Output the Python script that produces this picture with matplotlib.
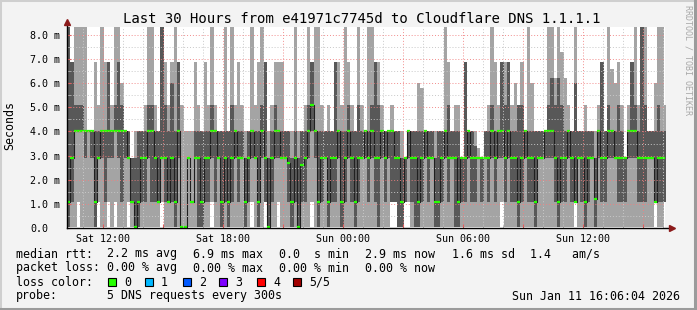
"""SmokePing-style latency chart: Cloudflare DNS 1.1.1.1, last 30 hours."""

import matplotlib

matplotlib.use("Agg")
import matplotlib.pyplot as plt
import numpy as np
from matplotlib.patches import Rectangle
from matplotlib.ticker import FuncFormatter, MultipleLocator

# time axis in hours since Sat 00:00, 10-minute bins
START_H = 10.2
END_H = 40.1
BIN_H = 1 / 6

# round-trip times in ms, 5 pings per bin sorted: min, 2nd, median, 4th, max
median = [
    1.07, 2.9, 4.0, 4.0, 4.0, 4.0, 4.0, 4.0, 1.07, 2.9, 4.0, 4.0,
    4.0, 4.0, 4.0, 4.0, 4.0, 4.0, 2.9, 1.07, 0.05, 1.07, 2.9, 2.9,
    4.0, 4.0, 2.9, 1.07, 2.9, 2.9, 1.07, 2.9, 1.07, 4.0, 0.05, 0.05,
    2.9, 1.07, 2.9, 2.9, 1.07, 2.9, 2.9, 4.0, 4.0, 2.9, 1.07, 2.9,
    1.07, 2.9, 4.0, 2.9, 2.9, 1.07, 2.9, 4.0, 2.9, 1.07, 4.0, 2.9,
    0.05, 2.9, 4.0, 4.0, 2.9, 2.9, 2.7, 1.07, 2.9, 0.05, 2.6, 2.9,
    4.0, 5.1, 4.0, 1.07, 2.9, 2.9, 1.07, 2.9, 2.9, 4.0, 1.07, 2.9,
    4.0, 2.9, 1.07, 2.9, 2.9, 4.0, 2.9, 4.0, 2.9, 2.9, 4.0, 2.9,
    4.0, 4.0, 2.9, 2.9, 1.07, 2.9, 4.0, 2.9, 2.9, 1.07, 2.9, 4.0,
    2.9, 2.9, 1.07, 1.07, 2.9, 4.0, 2.9, 2.9, 2.9, 1.07, 2.9, 2.9,
    4.0, 2.9, 2.9, 2.9, 2.9, 2.9, 2.9, 4.0, 2.9, 4.0, 4.0, 2.9,
    4.0, 2.9, 2.9, 1.07, 2.9, 4.0, 2.9, 2.9, 1.07, 2.9, 2.9, 4.0,
    4.0, 4.0, 2.9, 1.07, 2.9, 2.9, 4.0, 2.9, 1.07, 2.9, 2.9, 1.07,
    2.9, 2.9, 1.2, 4.0, 2.9, 2.9, 4.0, 4.0, 2.9, 2.9, 2.9, 2.9,
    4.0, 4.0, 4.0, 2.9, 2.9, 2.9, 2.9, 2.9, 1.07, 2.9, 2.9, 2.9,
]
ping_max = [
    8.4, 6.9, 8.4, 8.4, 8.4, 8.4, 4.0, 4.0, 6.9, 5.1, 8.4, 6.9,
    6.9, 5.1, 8.4, 8.4, 6.0, 4.0, 4.0, 2.9, 4.0, 4.0, 4.0, 5.1,
    8.4, 8.4, 5.1, 4.0, 8.4, 6.9, 5.1, 6.9, 8.4, 6.9, 5.1, 4.0,
    4.0, 4.0, 6.9, 5.1, 4.0, 6.9, 5.1, 8.4, 5.1, 4.0, 4.0, 8.4,
    4.0, 8.4, 5.1, 6.9, 5.1, 4.0, 4.0, 8.4, 5.1, 6.9, 8.4, 6.9,
    4.0, 5.1, 6.9, 6.9, 6.9, 4.0, 4.0, 4.0, 8.4, 4.0, 4.0, 5.1,
    8.4, 6.9, 8.4, 8.4, 5.1, 4.0, 5.1, 4.0, 6.9, 6.9, 5.1, 8.4,
    6.9, 5.1, 4.0, 8.4, 5.1, 4.0, 8.4, 8.4, 6.9, 6.9, 5.1, 4.0,
    4.0, 5.1, 4.0, 4.0, 4.0, 2.9, 4.0, 4.0, 4.0, 6.0, 5.8, 4.0,
    4.0, 4.0, 4.0, 4.0, 4.0, 8.4, 6.9, 4.0, 5.1, 5.1, 2.9, 6.9,
    4.0, 4.0, 4.0, 3.3, 2.9, 4.0, 5.1, 8.4, 6.9, 5.1, 6.9, 6.9,
    6.9, 5.1, 6.0, 5.1, 6.9, 4.0, 8.4, 6.0, 4.0, 4.0, 4.0, 4.0,
    8.4, 8.4, 6.2, 8.4, 7.3, 6.2, 5.1, 4.0, 8.4, 4.0, 4.0, 5.1,
    4.0, 4.0, 4.0, 5.1, 6.9, 4.0, 8.4, 6.6, 6.0, 6.9, 5.1, 2.9,
    5.1, 6.9, 8.4, 5.1, 8.4, 8.4, 4.0, 4.0, 6.0, 8.4, 8.4, 5.1,
]
ping_hi = [
    8.4, 6.9, 5.1, 5.1, 5.1, 4.0, 4.0, 4.0, 4.0, 4.0, 4.0, 4.0,
    6.9, 4.0, 5.1, 6.9, 5.1, 4.0, 4.0, 2.9, 2.9, 4.0, 4.0, 4.0,
    5.1, 5.1, 4.0, 4.0, 8.4, 5.1, 4.0, 6.0, 4.0, 6.9, 0.05, 0.05,
    2.9, 1.07, 4.0, 4.0, 4.0, 4.0, 4.0, 5.1, 4.0, 4.0, 4.0, 4.0,
    4.0, 5.1, 4.0, 4.0, 4.0, 2.9, 4.0, 4.0, 4.0, 4.0, 5.1, 6.9,
    2.9, 4.0, 5.1, 4.0, 4.0, 4.0, 4.0, 2.9, 4.0, 2.9, 4.0, 4.0,
    5.1, 6.9, 4.0, 4.0, 4.0, 4.0, 4.0, 4.0, 6.9, 4.0, 4.0, 4.0,
    5.1, 4.0, 4.0, 5.1, 4.0, 4.0, 4.0, 5.1, 6.9, 5.1, 4.0, 4.0,
    4.0, 4.0, 4.0, 4.0, 2.9, 2.9, 4.0, 4.0, 4.0, 4.0, 4.0, 4.0,
    4.0, 4.0, 2.9, 4.0, 4.0, 4.0, 5.1, 4.0, 4.0, 4.0, 2.9, 6.9,
    4.0, 4.0, 3.4, 2.9, 2.9, 4.0, 4.0, 5.1, 4.0, 4.0, 6.9, 5.1,
    6.9, 4.0, 4.0, 5.1, 5.1, 4.0, 4.0, 4.0, 4.0, 4.0, 4.0, 4.0,
    5.1, 6.2, 5.1, 6.2, 5.1, 4.0, 4.0, 4.0, 6.0, 4.0, 4.0, 4.0,
    4.0, 4.0, 2.9, 4.0, 6.9, 4.0, 5.1, 4.0, 4.0, 5.1, 4.0, 2.9,
    4.0, 6.9, 5.1, 4.0, 8.4, 5.1, 4.0, 4.0, 4.0, 5.1, 4.0, 4.0,
]
ping_lo = [
    0.05, 1.07, 4.0, 4.0, 4.0, 2.9, 4.0, 2.9, 0.05, 2.9, 2.9, 1.07,
    2.9, 2.9, 4.0, 2.9, 1.07, 2.9, 2.9, 1.07, 0.05, 0.05, 1.07, 1.07,
    2.9, 1.07, 1.07, 1.07, 2.9, 1.07, 1.07, 1.07, 0.05, 2.9, 0.05, 0.05,
    2.9, 1.07, 2.9, 0.05, 0.05, 1.07, 1.07, 2.9, 1.07, 2.9, 0.05, 1.07,
    0.05, 1.07, 2.9, 1.07, 2.9, 0.05, 1.07, 2.9, 2.9, 0.05, 2.9, 1.07,
    0.05, 1.07, 2.9, 2.9, 2.9, 2.9, 1.07, 0.05, 1.07, 0.05, 1.07, 1.07,
    2.9, 4.0, 2.9, 0.05, 1.07, 2.9, 0.05, 1.07, 1.07, 2.9, 0.05, 1.07,
    2.9, 1.07, 0.05, 1.07, 2.9, 2.9, 1.07, 2.9, 1.07, 0.05, 2.9, 1.07,
    2.9, 1.07, 1.07, 0.05, 0.05, 1.07, 2.9, 1.07, 0.05, 0.05, 1.07, 2.9,
    1.07, 2.9, 0.05, 0.05, 1.07, 2.9, 1.07, 2.9, 0.05, 0.05, 1.07, 1.07,
    2.9, 1.07, 1.07, 2.9, 1.07, 2.9, 1.07, 2.9, 1.07, 2.9, 2.9, 1.07,
    2.9, 1.07, 1.07, 0.05, 1.07, 2.9, 1.07, 1.07, 0.05, 2.9, 2.9, 2.9,
    2.9, 2.9, 1.07, 0.05, 1.07, 1.07, 2.9, 1.07, 1.07, 2.9, 1.07, 0.05,
    1.07, 2.9, 0.05, 2.9, 1.07, 1.07, 2.9, 2.9, 2.9, 1.07, 1.07, 1.07,
    2.9, 2.9, 2.9, 1.07, 1.07, 1.07, 2.9, 2.9, 1.07, 1.07, 1.07, 1.07,
]
ping_min = [
    0.05, 0.05, 0.05, 1.07, 0.05, 0.05, 0.05, 0.05, 0.05, 1.07, 0.05, 0.05,
    1.07, 0.05, 1.07, 0.05, 0.05, 0.05, 1.07, 0.05, 0.05, 0.05, 0.05, 0.05,
    0.05, 0.05, 0.05, 0.05, 1.07, 0.05, 0.05, 0.05, 0.05, 0.05, 0.05, 0.05,
    0.05, 0.05, 0.05, 0.05, 0.05, 0.05, 0.05, 1.07, 0.05, 0.05, 0.05, 0.05,
    0.05, 0.05, 0.05, 0.05, 0.05, 0.05, 0.05, 1.07, 0.05, 0.05, 0.05, 1.07,
    0.05, 0.05, 0.05, 1.07, 0.05, 0.05, 0.05, 0.05, 0.05, 0.05, 0.05, 0.05,
    0.05, 1.07, 0.05, 0.05, 0.05, 0.05, 0.05, 0.05, 0.05, 0.05, 0.05, 0.05,
    0.05, 0.05, 0.05, 0.05, 0.05, 0.05, 0.05, 0.05, 0.05, 0.05, 0.05, 0.05,
    0.05, 1.07, 1.07, 0.05, 0.05, 1.07, 1.07, 0.05, 0.05, 0.05, 0.05, 0.05,
    0.05, 0.05, 0.05, 0.05, 0.05, 0.05, 0.05, 0.05, 0.05, 0.05, 0.05, 0.05,
    0.05, 0.05, 0.05, 0.05, 0.05, 0.05, 0.05, 0.05, 0.05, 0.05, 1.07, 0.05,
    0.05, 0.05, 0.05, 0.05, 0.05, 0.05, 0.05, 0.05, 0.05, 0.05, 0.05, 0.05,
    0.05, 0.05, 0.05, 0.05, 0.05, 0.05, 0.05, 0.05, 1.07, 0.05, 0.05, 0.05,
    0.05, 0.05, 0.05, 0.05, 0.05, 0.05, 0.05, 0.05, 0.05, 0.05, 0.05, 0.05,
    0.05, 0.05, 0.05, 0.05, 0.05, 0.05, 0.05, 0.05, 1.07, 0.05, 0.05, 1.07,
]

loss_labels = ["0", "1", "2", "3", "4", "5/5"]
loss_colors = ["#26ff00", "#00b8ff", "#0059ff", "#7e00ff", "#ff0000", "#a10000"]

stat_rows = [
    ("median rtt:", ["2.2 ms avg", "6.9 ms max", "0.0  s min", "2.9 ms now",
                     "1.6 ms sd", "1.4   am/s"]),
    ("packet loss:", ["0.00 % avg", "0.00 % max", "0.00 % min", "0.00 % now"]),
]

TITLE = "Last 30 Hours from e41971c7745d to Cloudflare DNS 1.1.1.1"
PROBE = "5 DNS requests every 300s"
STAMP = "Sun Jan 11 16:06:04 2026"

W, H = 697, 310
MONO = "DejaVu Sans Mono"


def px(x, y):
    """pixel position (from top left) -> figure fraction"""
    return x / W, 1 - y / H


def hour_label(h, _pos):
    h = round(h)
    if h % 6:
        return ""
    day = "Sat" if h < 24 else "Sun"
    return f"{day} {h % 24:02d}:00"


def main():
    fig = plt.figure(figsize=(W / 100, H / 100), dpi=100, facecolor="#f3f3f3")
    ax = fig.add_axes([67 / W, 82 / H, 598 / W, 201 / H])
    ax.set_facecolor("white")

    n = len(median)
    edges = START_H + np.arange(n + 1) * BIN_H
    mids = edges[:-1]

    def stepped(vals):
        v = np.asarray(vals, dtype=float)
        return np.append(v, v[-1])

    # smoke: outer pair light, inner pair dark
    ax.fill_between(edges, stepped(ping_min), stepped(ping_max), step="post",
                    color="#a4a4a4", linewidth=0, zorder=1)
    ax.fill_between(edges, stepped(ping_lo), stepped(ping_hi), step="post",
                    color="#585858", linewidth=0, zorder=1.1)

    # median: dark connecting steps + green per-bin marks
    ax.step(edges, stepped(median), where="post", color="#202020",
            linewidth=0.8, zorder=1.2)
    ax.hlines(median, mids, mids + BIN_H, color=loss_colors[0],
              linewidth=1.6, zorder=1.3)

    ax.set_xlim(START_H, END_H)
    ax.set_ylim(0, 8.33)

    ax.xaxis.set_major_locator(MultipleLocator(3))
    ax.xaxis.set_minor_locator(MultipleLocator(1))
    ax.xaxis.set_major_formatter(FuncFormatter(hour_label))
    ax.yaxis.set_major_locator(MultipleLocator(1))
    ax.yaxis.set_minor_locator(MultipleLocator(0.5))
    ax.yaxis.set_major_formatter(
        FuncFormatter(lambda v, _p: "0.0" if v == 0 else f"{v:.1f} m"))

    ax.grid(True, which="major", color="#f08080", linestyle=(0, (1, 2)),
            linewidth=0.7, alpha=0.9)
    ax.grid(True, which="minor", color="#c8c8c8", linestyle=(0, (1, 2)),
            linewidth=0.7)
    ax.set_axisbelow(False)

    for side in ("top", "right", "left", "bottom"):
        ax.spines[side].set_visible(False)

    ax.tick_params(axis="x", which="major", direction="in", length=3,
                   color="#e06060", pad=4, labelsize=7.2, labelfontfamily=MONO)
    ax.tick_params(axis="x", which="minor", direction="in", length=2,
                   color="#b0b0b0")
    ax.tick_params(axis="y", which="major", direction="in", length=3,
                   color="#e06060", pad=26.6, labelsize=7.2, labelfontfamily=MONO)
    ax.tick_params(axis="y", which="minor", direction="in", length=2,
                   color="#b0b0b0")
    for lbl in ax.get_yticklabels():
        lbl.set_horizontalalignment("left")

    # axes with arrow heads, rrdtool style
    ax.plot([0, 1.01], [0, 0], color="black", linewidth=1, transform=ax.transAxes,
            clip_on=False, zorder=5)
    ax.plot([0, 0], [0, 1.02], color="black", linewidth=1, transform=ax.transAxes,
            clip_on=False, zorder=5)
    ax.plot([1.012], [0], marker=">", markersize=5, color="#8b1a1a",
            transform=ax.transAxes, clip_on=False, zorder=6)
    ax.plot([0], [1.025], marker="^", markersize=5, color="#8b1a1a",
            transform=ax.transAxes, clip_on=False, zorder=6)

    # titles
    fig.text(*px(362, 19), TITLE, ha="center", va="center", fontsize=10.1,
             family=MONO, color="black")
    fig.text(*px(10, 126), "Seconds", ha="center", va="center", rotation=90,
             fontsize=8.4, family=MONO)
    fig.text(*px(688, 60), "RRDTOOL / TOBI OETIKER", ha="center", va="center",
             rotation=270, fontsize=6, family=MONO, color="#a8a8a8")

    # legend block
    col_x = [107, 193, 279, 365, 452, 530]
    for row, (head, items) in enumerate(stat_rows):
        y = 254 + row * 14
        fig.text(*px(16, y), head, ha="left", va="center", fontsize=8.4, family=MONO)
        for x, item in zip(col_x, items):
            fig.text(*px(x, y), item, ha="left", va="center", fontsize=8.4,
                     family=MONO)

    y = 282
    fig.text(*px(16, y), "loss color:", ha="left", va="center", fontsize=8.4,
             family=MONO)
    box_x = [108, 145, 183, 219, 257, 293]
    for x, lbl, col in zip(box_x, loss_labels, loss_colors):
        bx, by = px(x, y + 4)
        fig.patches.append(Rectangle((bx, by), 8 / W, 8 / H, transform=fig.transFigure,
                                     facecolor=col, edgecolor="black", linewidth=0.8))
        fig.text(*px(x + 16, y), lbl, ha="left", va="center", fontsize=8.4,
                 family=MONO)

    y = 296
    fig.text(*px(16, y), "probe:", ha="left", va="center", fontsize=8.4, family=MONO)
    fig.text(*px(107, y), PROBE, ha="left", va="center", fontsize=8.4, family=MONO)
    fig.text(*px(680, y), STAMP, ha="right", va="center", fontsize=8.4, family=MONO)

    # frame around the image
    fig.patches.append(Rectangle((0, 0), 1, 1, transform=fig.transFigure, fill=False,
                                 edgecolor="#cfcfcf", linewidth=2.2))
    fig.lines.append(plt.Line2D([0, 1], [0.004, 0.004], transform=fig.transFigure,
                                color="#9b9b9b", linewidth=2.2))
    fig.lines.append(plt.Line2D([0.9975, 0.9975], [0, 1], transform=fig.transFigure,
                                color="#9b9b9b", linewidth=2.2))

    fig.savefig("out.png", dpi=100, facecolor=fig.get_facecolor())
    plt.close(fig)


if __name__ == "__main__":
    main()
